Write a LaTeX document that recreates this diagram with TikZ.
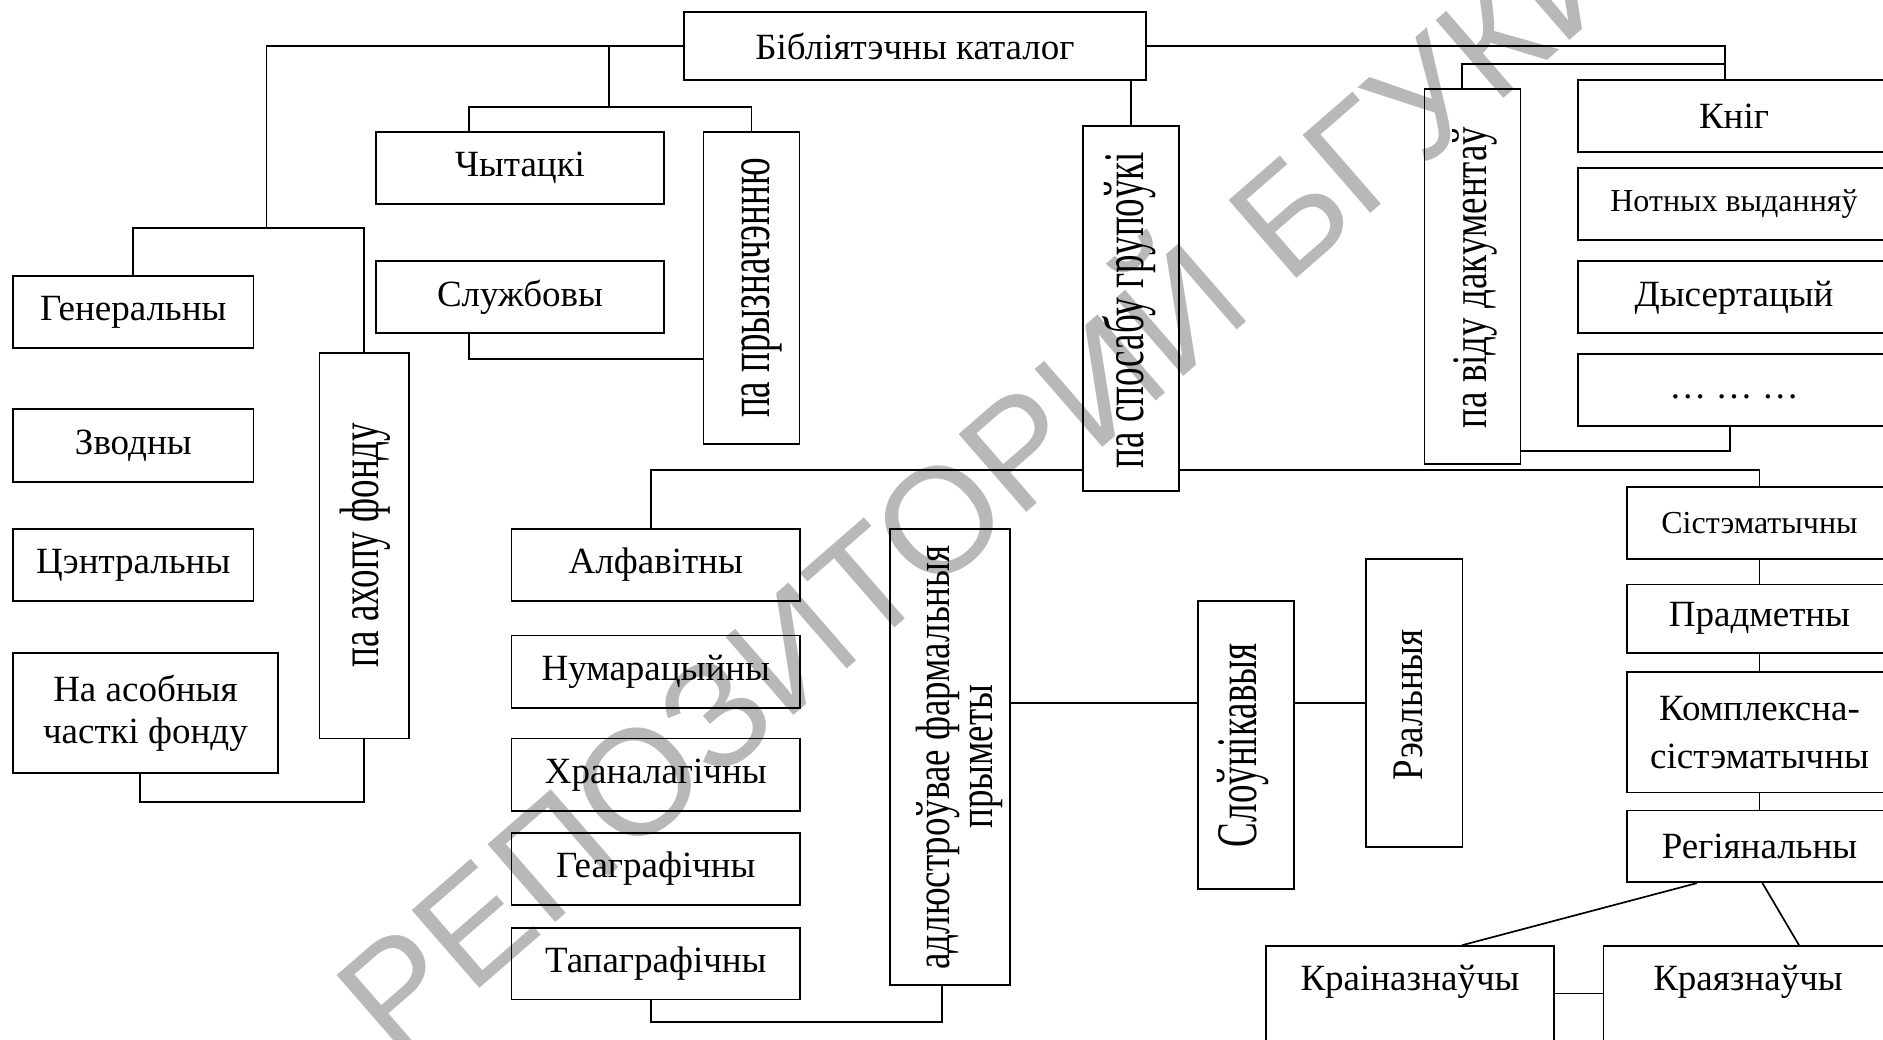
\documentclass[tikz,border=0pt]{standalone}
\usepackage{fontspec}
\setmainfont{Liberation Serif}
\newfontfamily\wmfont{Liberation Sans}
\usepackage{graphicx}
\newcommand\fsbig{\fontsize{37}{44}\selectfont}
\newcommand\fssm{\fontsize{32}{38}\selectfont}
\newcommand\vs[2]{\scalebox{1}[#1]{#2}}
\begin{document}
\begin{tikzpicture}[x=1pt,y=-1pt,
  box/.style={draw, line width=1.7pt, inner sep=0pt, font=\fsbig, align=center},
  vtext/.style={rotate=90, anchor=base, inner sep=0pt, font=\fsbig},
  htext/.style={anchor=base, inner sep=0pt, font=\fsbig},
  conn/.style={line width=1.7pt},
  wm/.style={text=black!28, font=\wmfont\fontsize{150}{150}\selectfont, rotate=41, anchor=base west, inner sep=0pt}]
\useasboundingbox (0,0) rectangle (1883,1040);
\clip (0,0) rectangle (1883,1040);
\node[wm] (wmark) at (395,1062) {РЕПОЗИТОРИЙ БГУКИ};
% top
\node[box, minimum width=462pt, minimum height=68pt] (cat) at (915,46) {Бібліятэчны каталог};
\node[box, minimum width=288pt, minimum height=72pt] (chyt) at (520,168) {Чытацкі};
\node[box, minimum width=288pt, minimum height=72pt] (sluzh) at (520,297) {Службовы};
\node[box, minimum width=96pt, minimum height=312.3pt] (pryzn) at (751.6,288.2) {};
\node[vtext] (pryznT) at (769.5,288) {\vs{1.6}{па прызначэнню}};
% left
\node[box, minimum width=240.6pt, minimum height=72.3pt] (gen) at (133.3,312.2) {Генеральны};
\node[box, minimum width=240.6pt, minimum height=72.4pt] (zvod) at (133.3,445.5) {Зводны};
\node[box, minimum width=240.6pt, minimum height=72pt] (centr) at (133.3,565) {Цэнтральны};
\node[box, minimum width=264.7pt, minimum height=120.6pt, font=\fontsize{37}{42}\selectfont] (asob) at (145.4,713) {На асобныя\\часткі фонду};
\node[box, minimum width=89.4pt, minimum height=385.3pt] (akhop) at (364.3,545.7) {};
\node[vtext] (akhopT) at (378.6,545) {\vs{1.5}{па ахопу фонду}};
% grouping
\node[box, minimum width=96pt, minimum height=365.3pt] (spos) at (1131,308.4) {};
\node[vtext] (sposT) at (1143.3,310) {\vs{1.55}{па спосабу групоўкі}};
\node[box, minimum width=96pt, minimum height=374.7pt] (vidu) at (1472.5,276.7) {};
\node[vtext] (viduT) at (1486,277.5) {\vs{1.34}{па віду дакументаў}};
% documents
\node[box, minimum width=312pt, minimum height=72.3pt] (knig) at (1734,116.2) {Кніг};
\node[box, minimum width=312pt, minimum height=71.7pt, font=\fssm] (notn) at (1734,204.2) {Нотных выданняў};
\node[box, minimum width=312pt, minimum height=72pt] (dys) at (1734,297.3) {Дысертацый};
\node[box, minimum width=312pt, minimum height=72pt] (ell) at (1734,389.7) {\strut… … …};
% formal
\node[box, minimum width=288.5pt, minimum height=72.2pt] (alf) at (655.8,565.1) {Алфавітны};
\node[box, minimum width=288.5pt, minimum height=72.2pt] (num) at (655.8,671.6) {Нумарацыйны};
\node[box, minimum width=288.5pt, minimum height=72.2pt] (khr) at (655.8,774.7) {Храналагічны};
\node[box, minimum width=288.5pt, minimum height=72.2pt] (geo) at (655.8,868.8) {Геаграфічны};
\node[box, minimum width=288.5pt, minimum height=71.5pt] (tap) at (655.8,963.6) {Тапаграфічны};
\node[box, minimum width=119.7pt, minimum height=456pt] (adl) at (949.9,757) {};
\node[vtext] (adlT1) at (949.4,757.5) {\vs{1.3}{адлюстроўвае фармальныя}};
\node[vtext] (adlT2) at (992.5,756.6) {\vs{1.3}{прыметы}};
\node[box, minimum width=96pt, minimum height=287.8pt] (slou) at (1246,745.1) {};
\node[vtext] (slouT) at (1256.5,745.3) {\vs{1.55}{Слоўнікавыя}};
\node[box, minimum width=96.3pt, minimum height=288pt] (real) at (1414.2,703) {};
\node[vtext] (realT) at (1422,704.8) {\vs{1.18}{Рэальныя}};
% subject
\node[box, minimum width=265pt, minimum height=71.7pt, font=\fssm] (sys) at (1759.5,522.8) {Сістэматычны};
\node[box, minimum width=265pt, minimum height=68.9pt] (prad) at (1759.5,618.8) {Прадметны};
\node[box, minimum width=265pt, minimum height=120.4pt, font=\fontsize{37}{48}\selectfont] (komp) at (1759.5,732.2) {Комплексна-\\сістэматычны};
\node[box, minimum width=265pt, minimum height=71.9pt] (reg) at (1759.5,846.3) {Регіянальны};
\node[box, minimum width=288pt, minimum height=120pt] (krain) at (1410,1006) {};
\node[htext] (krainT) at (1410,990.7) {Краіназнаўчы};
\node[box, minimum width=289.5pt, minimum height=120pt] (kraj) at (1748.3,1006) {};
\node[htext] (krajT) at (1748,990.7) {Краязнаўчы};
% connectors
\coordinate (c1) at (266.5,228);
\coordinate (c2) at (609,107);
\coordinate (c3) at (469,107);
\coordinate (c4) at (469,359.3);
\coordinate (c5) at (139.7,801.7);
\coordinate (c6) at (1725,64.3);
\coordinate (c7) at (1462,64.3);
\coordinate (c8) at (1730,450.7);
\coordinate (c9) at (651,470);
\coordinate (c10) at (942,1021.9);
\coordinate (c11) at (1553.9,993.6);
\draw[conn] (cat.west) -| (c1);
\draw[conn] (gen.north) |- (c1) -| (akhop.north);
\draw[conn] (c2 |- cat.west) -- (c2);
\draw[conn] (chyt.north -| c3) -- (c3) -| (pryzn.north);
\draw[conn] (sluzh.south -| c4) -- (c4) -- (c4 -| pryzn.west);
\draw[conn] (asob.south -| c5) -- (c5) -| (akhop.south);
\draw[conn] (cat.east) -| (knig.north -| c6);
\draw[conn] (vidu.north -| c7) -- (c7) -- (c6);
\draw[conn] (cat.south -| spos.north) -- (spos.north);
\draw[conn] (ell.south -| c8) -- (c8) -- (c8 -| vidu.east);
\draw[conn] (spos.west |- c9) -- (c9) -- (alf.north -| c9);
\draw[conn] (spos.east |- c9) -| (sys.north);
\draw[conn] (tap.south -| c9) -- (c9 |- c10) -- (c10) -- (adl.south -| c10);
\draw[conn] (adl.east |- real.west) -- (slou.west |- real.west);
\draw[conn] (slou.east |- real.west) -- (real.west);
\draw[conn] (sys.south) -- (prad.north);
\draw[conn] (prad.south) -- (komp.north);
\draw[conn] (komp.south) -- (reg.north);
\draw[conn] ([xshift=-62.5pt]reg.south) -- ([xshift=52.3pt]krain.north);
\draw[conn] ([xshift=2.9pt]reg.south) -- ([xshift=50.7pt]kraj.north);
\draw[conn] (krain.east |- c11) -- (kraj.west |- c11);
\end{tikzpicture}
\end{document}
